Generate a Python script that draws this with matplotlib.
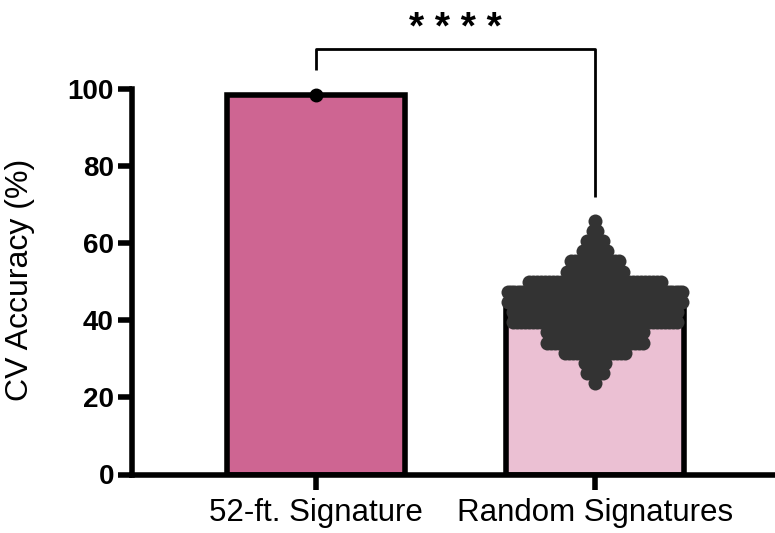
import numpy as np
import matplotlib
matplotlib.use("Agg")
import matplotlib.pyplot as plt

plt.rcParams["font.family"] = ["Liberation Sans", "DejaVu Sans"]

# ---- data ----
categories = ["52-ft. Signature", "Random Signatures"]
signature_accuracy = [98.5]                      # single CV accuracy of the 52-feature signature
# random signatures: accuracy levels (k/38 correct) and number of signatures at each level
random_levels = [65.79, 63.16, 60.53, 57.89, 55.26, 52.63, 50.00, 47.37, 44.74,
                 42.11, 39.47, 36.84, 34.21, 31.58, 28.95, 26.32, 23.68]
random_counts = [1, 2, 5, 7, 13, 15, 34, 55, 60,
                 42, 42, 25, 25, 16, 6, 5, 1]
y_ticks = [0, 20, 40, 60, 80, 100]
significance = "* * * *"

random_values = np.repeat(random_levels, random_counts)
means = [np.mean(signature_accuracy), np.mean(random_values)]
bar_colors = ["#CE6592", "#EBC0D3"]

# ---- figure ----
W, H, DPI = 775, 533, 100
fig = plt.figure(figsize=(W / DPI, H / DPI), dpi=DPI)
ax_left, ax_right = 132 / W, 1.0
ax_bottom, ax_top = (H - 474.5) / H, (H - 89) / H
ax = fig.add_axes([ax_left, ax_bottom, ax_right - ax_left, ax_top - ax_bottom])

x = np.arange(len(categories))
bar_w = 0.64
ax.bar(x, means, width=bar_w, color=bar_colors, edgecolor="black",
       linewidth=4, zorder=2)

# individual point for the signature
ax.scatter(np.full(len(signature_accuracy), x[0]), signature_accuracy,
           s=9 ** 2, color="black", zorder=4, clip_on=False)

# swarm of random signatures, one row per accuracy level
px_per_unit = (W - 132) / (1.645 + 0.6595)
marker_px = 14
step = 4 / px_per_unit
max_span = (188 - marker_px) / px_per_unit
xs, ys = [], []
for lvl, n in zip(random_levels, random_counts):
    s = step if (n - 1) * step <= max_span else max_span / (n - 1)
    offs = (np.arange(n) - (n - 1) / 2) * s
    xs.extend(x[1] + offs)
    ys.extend([lvl] * n)
ax.scatter(xs, ys, s=(marker_px * 72 / DPI) ** 2, color="#333333",
           linewidths=0, zorder=3)

# axes styling
ax.set_xlim(-0.6595, 1.645)
ax.set_ylim(0, 100)
for side in ("top", "right"):
    ax.spines[side].set_visible(False)
for side in ("left", "bottom"):
    ax.spines[side].set_linewidth(4)
    ax.spines[side].set_capstyle("projecting")
ax.set_yticks(y_ticks)
ax.set_yticklabels([str(t) for t in y_ticks], fontsize=20, fontweight="bold")
ax.set_xticks(x)
ax.set_xticklabels(categories, fontsize=22.5)
ax.tick_params(axis="y", length=10, width=4, pad=3)
ax.tick_params(axis="x", length=11, width=4, pad=6)
ax.set_ylabel("CV Accuracy (%)", fontsize=23)
ax.yaxis.set_label_coords(-0.1516, 0.5045)

# significance bracket
bracket_y = 110.4
ax.plot([x[0], x[0], x[1], x[1]], [104.9, bracket_y, bracket_y, 72.0],
        color="black", linewidth=2, clip_on=False, solid_capstyle="butt")
ax.text((x[0] + x[1]) / 2, 115.5, significance, ha="center", va="center",
        fontsize=28, fontweight="bold", clip_on=False)

fig.savefig("out.png", dpi=DPI)
